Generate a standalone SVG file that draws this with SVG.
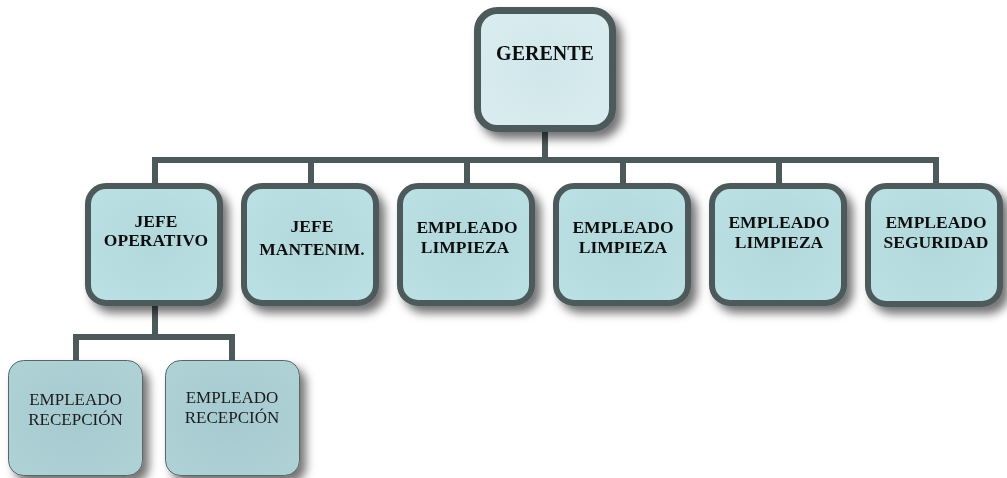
<svg xmlns="http://www.w3.org/2000/svg" width="1007" height="478" viewBox="0 0 1007 478">
<style>
.b1{fill:url(#g1);stroke:#4d5a5b;stroke-width:7}
.b2{fill:url(#g2);stroke:#4d5a5b;stroke-width:6}
.b3{fill:url(#g3);stroke:#5a6566;stroke-width:1}
.tb{font-family:"Liberation Serif","Times New Roman",serif;font-weight:bold;font-size:17.5px;fill:#111;text-anchor:middle}
.tg{font-family:"Liberation Serif","Times New Roman",serif;font-weight:bold;font-size:20px;fill:#111;text-anchor:middle}
.tr{font-family:"Liberation Serif","Times New Roman",serif;font-size:17px;fill:#1a1a1a;text-anchor:middle}
.c{fill:none;stroke:#4d5a5b;stroke-width:6}
</style>
<defs>
<filter id="sh" x="-20%" y="-20%" width="150%" height="150%">
<feDropShadow dx="6" dy="7" stdDeviation="5" flood-color="#000" flood-opacity="0.55"/>
</filter>
<radialGradient id="g1" cx="0.5" cy="0.5" r="0.6">
<stop offset="0" stop-color="#d0e6ea"/>
<stop offset="1" stop-color="#d9edf0"/>
</radialGradient>
<radialGradient id="g2" cx="0.5" cy="0.5" r="0.6">
<stop offset="0" stop-color="#b2d8dc"/>
<stop offset="1" stop-color="#bbe0e4"/>
</radialGradient>
<radialGradient id="g3" cx="0.5" cy="0.5" r="0.6">
<stop offset="0" stop-color="#a5cacf"/>
<stop offset="1" stop-color="#aed1d5"/>
</radialGradient>
</defs>
<g id="connectors">
<path class="c" d="M545 132V160M152 160H939M155 160V184M311 160V184M467 160V184M623 160V184M779 160V184M936 160V184"/>
<path class="c" d="M155 306V337M73 337H235M76 337V362M232 337V362"/>
</g>
<g id="gerente" filter="url(#sh)">
<rect class="b1" x="477.5" y="10.5" width="135" height="118" rx="20"/>
<text class="tg" x="545" y="60">GERENTE</text>
</g>
<g id="jefe-operativo" filter="url(#sh)">
<rect class="b2" x="88" y="186" width="132" height="117" rx="18"/>
<text class="tb" x="156" y="227">JEFE</text>
<text class="tb" x="156" y="246">OPERATIVO</text>
</g>
<g id="jefe-mantenim" filter="url(#sh)">
<rect class="b2" x="244" y="186" width="132" height="117" rx="18"/>
<text class="tb" x="312" y="232">JEFE</text>
<text class="tb" x="312" y="255">MANTENIM.</text>
</g>
<g id="empleado-limpieza-1" filter="url(#sh)">
<rect class="b2" x="400" y="186" width="132" height="117" rx="18"/>
<text class="tb" x="467" y="233">EMPLEADO</text>
<text class="tb" x="465" y="253">LIMPIEZA</text>
</g>
<g id="empleado-limpieza-2" filter="url(#sh)">
<rect class="b2" x="556" y="186" width="132" height="117" rx="18"/>
<text class="tb" x="623" y="233">EMPLEADO</text>
<text class="tb" x="623" y="253">LIMPIEZA</text>
</g>
<g id="empleado-limpieza-3" filter="url(#sh)">
<rect class="b2" x="712" y="186" width="132" height="117" rx="18"/>
<text class="tb" x="779" y="228">EMPLEADO</text>
<text class="tb" x="779" y="248">LIMPIEZA</text>
</g>
<g id="empleado-seguridad" filter="url(#sh)">
<rect class="b2" x="868" y="186" width="132" height="118" rx="18"/>
<text class="tb" x="936" y="228">EMPLEADO</text>
<text class="tb" x="936" y="248">SEGURIDAD</text>
</g>
<g id="empleado-recepcion-1" filter="url(#sh)">
<rect class="b3" x="8.5" y="360.5" width="134" height="115" rx="15"/>
<text class="tr" x="75.5" y="405">EMPLEADO</text>
<text class="tr" x="75.5" y="425">RECEPCIÓN</text>
</g>
<g id="empleado-recepcion-2" filter="url(#sh)">
<rect class="b3" x="165.5" y="360.5" width="134" height="115" rx="15"/>
<text class="tr" x="232" y="403">EMPLEADO</text>
<text class="tr" x="232" y="423">RECEPCIÓN</text>
</g>
</svg>
